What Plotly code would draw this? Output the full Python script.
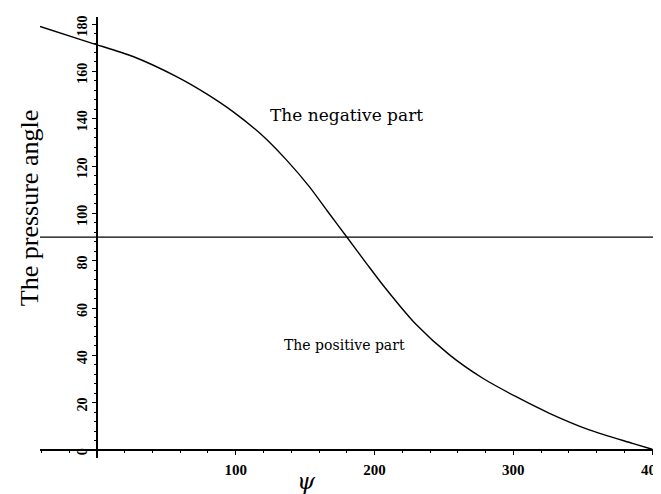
import plotly.graph_objects as go

# Curve
psi = [-41, -5, 26, 57, 79, 98, 120, 136.5, 153, 166, 180, 194, 207, 230, 254, 278, 302, 326, 354.7, 385.8, 400]
angle = [179, 172.2, 166.3, 157.9, 150.5, 143, 132.5, 122.6, 111.3, 101.0, 90, 79.0, 69.0, 53.0, 40.2, 30.3, 22.5, 15.5, 8.5, 2.8, 0.3]

# Horizontal reference line (90 degrees)
ref_x = [-41, 400.6]
ref_y = [90, 90]

x_ticks = [100, 200, 300, 400]
y_ticks = [0, 20, 40, 60, 80, 100, 120, 140, 160, 180]

x_range = [-41, 400.6]
y_range = [-3.4, 183]

fig = go.Figure()
fig.add_trace(go.Scatter(x=psi, y=angle, mode="lines", line=dict(color="black", width=1.4, shape="spline", smoothing=0.8),
                         showlegend=False, hoverinfo="skip"))
fig.add_trace(go.Scatter(x=ref_x, y=ref_y, mode="lines", line=dict(color="black", width=1.3),
                         showlegend=False, hoverinfo="skip"))

xpos = (0 - y_range[0]) / (y_range[1] - y_range[0])
ypos = (0 - x_range[0]) / (x_range[1] - x_range[0])

# page body has an 8px margin, so the figure is sized to fill the rest of the window
fig.update_layout(
    width=653, height=486,
    margin=dict(l=32, r=8, t=9, b=36, autoexpand=False),
    paper_bgcolor="white", plot_bgcolor="white",
    xaxis=dict(range=x_range, anchor="free", position=xpos, showgrid=False, zeroline=False, automargin=False,
               showline=True, linecolor="black", linewidth=1.5, ticklabeloverflow="allow",
               tickmode="array", tickvals=x_ticks, ticktext=[str(v) for v in x_ticks],
               ticks="outside", ticklen=4, tickwidth=1.2, tickcolor="black", ticklabelstandoff=2,
               minor=dict(tick0=0, dtick=20, ticks="outside", ticklen=2, tickcolor="black", tickwidth=1),
               tickfont=dict(family="Liberation Serif", size=15, color="black", weight="bold")),
    yaxis=dict(range=y_range, anchor="free", position=ypos, showgrid=False, zeroline=False, automargin=False,
               showline=True, linecolor="black", linewidth=1.5, ticklabeloverflow="allow",
               tickmode="array", tickvals=y_ticks, ticktext=[str(v) for v in y_ticks],
               ticks="outside", ticklen=4, tickwidth=1.2, tickcolor="black", tickangle=-90,
               ticklabelshift=4,
               minor=dict(tick0=0, dtick=4, ticks="outside", ticklen=2, tickcolor="black", tickwidth=1),
               tickfont=dict(family="Liberation Serif", size=14, color="black", weight="bold")),
    annotations=[
        dict(text="The pressure angle", xref="paper", yref="paper", x=-0.016, y=0.567,
             xanchor="center", yanchor="middle", textangle=-90, showarrow=False,
             font=dict(family="Liberation Serif", size=26, color="black")),
        dict(text="<i>ψ</i>", xref="x", yref="paper", x=151, y=0, yshift=-23, xanchor="center", yanchor="middle",
             showarrow=False, font=dict(family="DejaVu Serif", size=23, color="black")),
        dict(text="The negative part", x=180, y=141.6, xref="x", yref="y", showarrow=False,
             xanchor="center", yanchor="middle", font=dict(family="DejaVu Serif", size=17, color="black")),
        dict(text="The positive part", x=178, y=44.4, xref="x", yref="y", showarrow=False,
             xanchor="center", yanchor="middle", font=dict(family="DejaVu Serif", size=14, color="black")),
    ],
)

fig.write_html("out.html")
